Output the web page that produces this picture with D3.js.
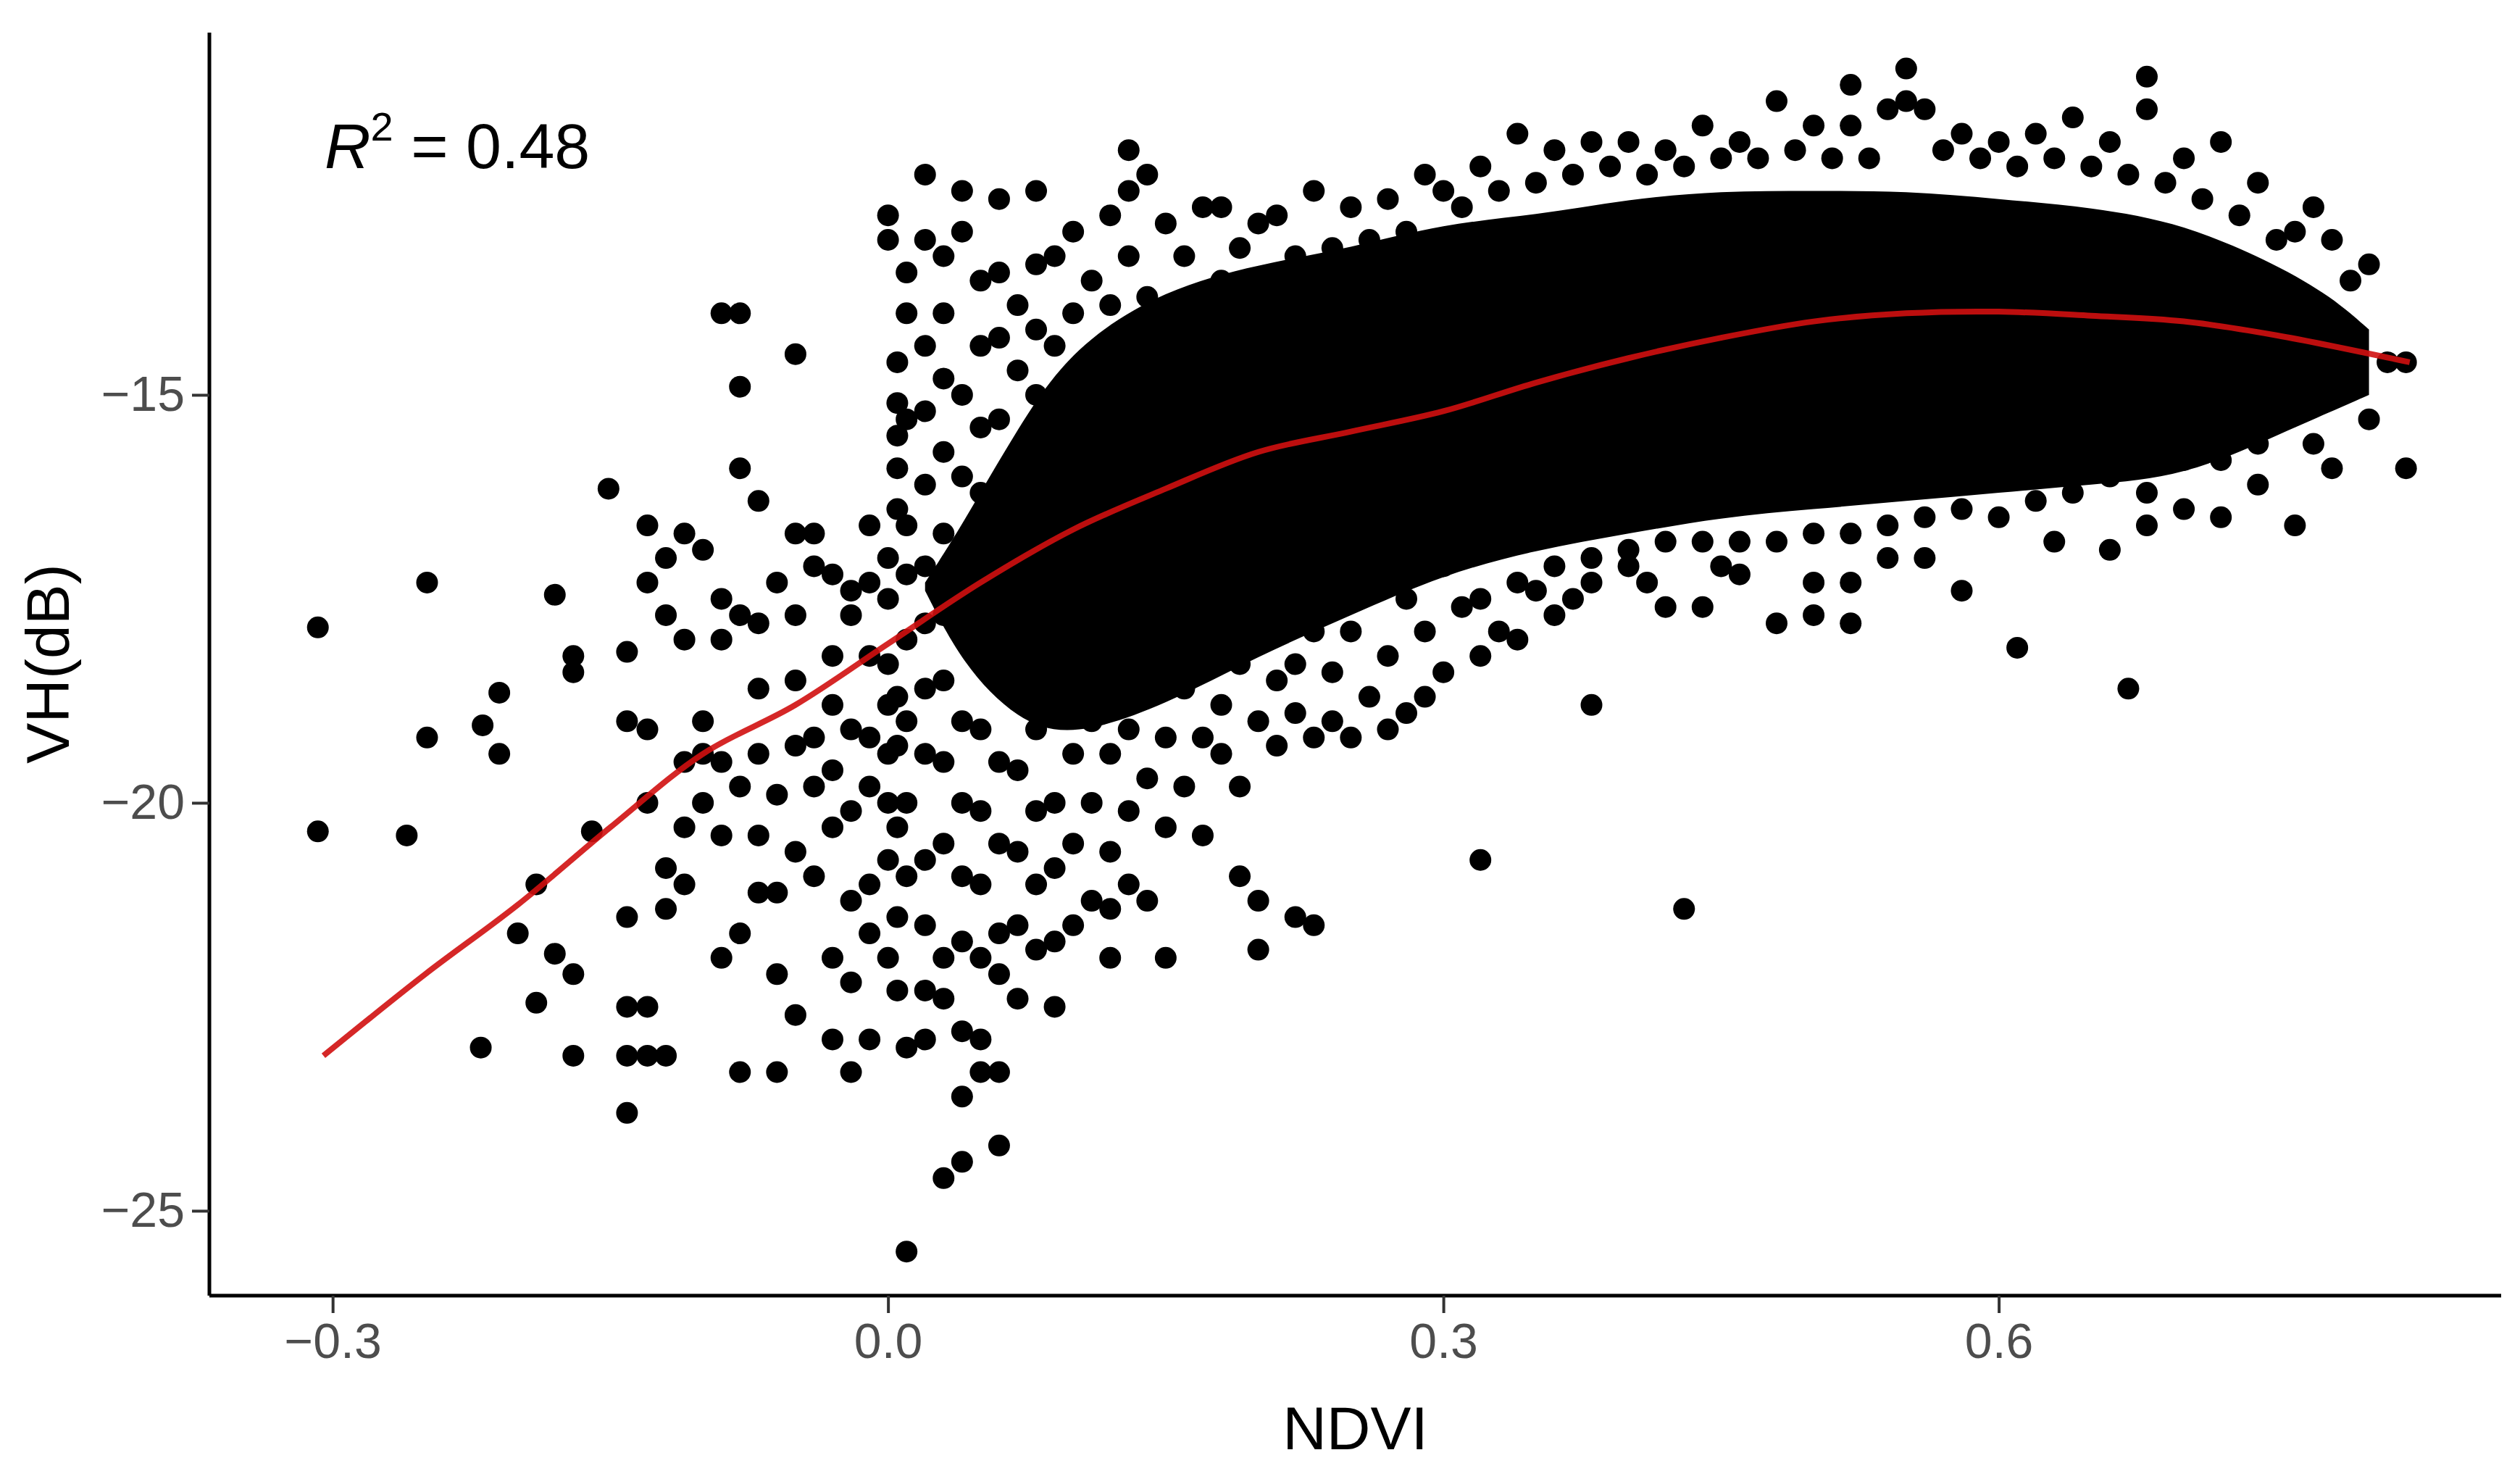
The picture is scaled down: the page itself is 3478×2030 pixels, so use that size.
<!DOCTYPE html>
<html><head><meta charset="utf-8">
<script src="https://cdn.jsdelivr.net/npm/d3@7"></script>
<style>body{margin:0;background:#fff}svg{display:block}</style>
</head><body>
<svg id="c" width="3478" height="2030"></svg>
<script>
const xTicks=[-0.3,0.0,0.3,0.6];
const yTicks=[-25,-20,-15];
const r2Label="0.48";
// dense core of the cloud: [NDVI, top dB, bottom dB]
const coreBand=[[0.02,-17.3,-17.4],[0.04,-16.6,-18.3],[0.07,-15.4,-19.0],[0.10,-14.4,-19.2],[0.15,-13.7,-18.8],[0.20,-13.4,-18.2],[0.25,-13.2,-17.7],[0.30,-12.9,-17.2],[0.35,-12.8,-16.9],[0.40,-12.6,-16.7],[0.45,-12.5,-16.5],[0.50,-12.5,-16.4],[0.55,-12.5,-16.3],[0.60,-12.6,-16.2],[0.65,-12.7,-16.1],[0.70,-12.9,-16.0],[0.75,-13.4,-15.5],[0.78,-13.8,-15.2],[0.80,-14.2,-15.0]];
// individual observations [NDVI, VH dB]
const points=[[-0.308,-17.85],[-0.308,-20.35],[-0.249,-17.3],[-0.249,-19.2],[-0.26,-20.4],[-0.219,-19.05],[-0.21,-18.65],[-0.21,-19.4],[-0.2,-21.6],[-0.22,-23.0],[-0.19,-21.0],[-0.19,-22.45],[-0.18,-17.45],[-0.18,-21.85],[-0.17,-18.2],[-0.17,-18.4],[-0.17,-23.1],[-0.17,-22.1],[-0.16,-20.35],[-0.151,-16.15],[-0.141,-18.15],[-0.141,-19.0],[-0.141,-21.4],[-0.141,-22.5],[-0.141,-23.1],[-0.141,-23.8],[-0.13,-16.6],[-0.13,-17.3],[-0.13,-19.1],[-0.13,-20.0],[-0.13,-22.5],[-0.13,-23.1],[-0.12,-17.0],[-0.12,-17.7],[-0.12,-20.8],[-0.12,-21.3],[-0.12,-23.1],[-0.11,-16.7],[-0.11,-18.0],[-0.11,-19.5],[-0.11,-20.3],[-0.11,-21.0],[-0.1,-16.9],[-0.1,-19.0],[-0.1,-19.4],[-0.1,-20.0],[-0.09,-14.0],[-0.09,-17.5],[-0.09,-18.0],[-0.09,-19.5],[-0.09,-20.4],[-0.09,-21.9],[-0.08,-14.0],[-0.08,-14.9],[-0.08,-15.9],[-0.08,-17.7],[-0.08,-19.8],[-0.08,-21.6],[-0.08,-23.3],[-0.07,-16.3],[-0.07,-17.8],[-0.07,-18.6],[-0.07,-19.4],[-0.07,-20.4],[-0.07,-21.1],[-0.06,-17.3],[-0.06,-19.9],[-0.06,-21.1],[-0.06,-22.1],[-0.06,-23.3],[-0.05,-14.5],[-0.05,-16.7],[-0.05,-17.7],[-0.05,-18.5],[-0.05,-19.3],[-0.05,-20.6],[-0.05,-22.6],[-0.04,-16.7],[-0.04,-17.1],[-0.04,-19.2],[-0.04,-19.8],[-0.04,-20.9],[-0.03,-17.2],[-0.03,-18.2],[-0.03,-18.8],[-0.03,-19.6],[-0.03,-20.3],[-0.03,-21.9],[-0.03,-22.9],[-0.02,-17.4],[-0.02,-17.7],[-0.02,-19.1],[-0.02,-20.1],[-0.02,-21.2],[-0.02,-22.2],[-0.02,-23.3],[-0.01,-16.6],[-0.01,-17.3],[-0.01,-18.2],[-0.01,-19.2],[-0.01,-19.8],[-0.01,-21.0],[-0.01,-21.6],[-0.01,-22.9],
[0.0,-12.8],[0.0,-13.1],[0.0,-17.0],[0.0,-17.5],[0.0,-18.3],[0.0,-18.8],[0.0,-19.4],[0.0,-20.0],[0.0,-20.7],[0.0,-21.9],
[0.005,-14.6],[0.005,-15.1],[0.005,-15.5],[0.005,-15.9],[0.005,-16.4],[0.005,-18.7],[0.005,-19.3],[0.005,-20.3],[0.005,-21.4],[0.005,-22.3],
[0.01,-13.5],[0.01,-14.0],[0.01,-15.3],[0.01,-16.6],[0.01,-17.2],[0.01,-18.0],[0.01,-19.0],[0.01,-20.0],[0.01,-20.9],[0.01,-23.0],[0.01,-25.5],
[0.02,-12.3],[0.02,-13.1],[0.02,-14.4],[0.02,-15.2],[0.02,-16.1],[0.02,-17.1],[0.02,-17.8],[0.02,-18.6],[0.02,-19.4],[0.02,-20.7],[0.02,-21.5],[0.02,-22.3],[0.02,-22.9],
[0.03,-13.3],[0.03,-14.0],[0.03,-14.8],[0.03,-15.7],[0.03,-16.7],[0.03,-17.7],[0.03,-18.5],[0.03,-19.5],[0.03,-20.5],[0.03,-21.9],[0.03,-22.4],[0.03,-24.6],
[0.04,-12.5],[0.04,-13.0],[0.04,-15.0],[0.04,-16.0],[0.04,-17.0],[0.04,-17.9],[0.04,-19.0],[0.04,-20.0],[0.04,-20.9],[0.04,-21.7],[0.04,-22.8],[0.04,-23.6],[0.04,-24.4],
[0.05,-13.6],[0.05,-14.4],[0.05,-15.4],[0.05,-16.2],[0.05,-17.1],[0.05,-18.1],[0.05,-19.1],[0.05,-20.1],[0.05,-21.0],[0.05,-21.9],[0.05,-22.9],[0.05,-23.3],
[0.06,-12.6],[0.06,-13.5],[0.06,-14.3],[0.06,-15.3],[0.06,-16.4],[0.06,-17.4],[0.06,-18.4],[0.06,-19.5],[0.06,-20.5],[0.06,-21.6],[0.06,-22.1],[0.06,-23.3],[0.06,-24.2],
[0.07,-13.9],[0.07,-14.7],[0.07,-15.8],[0.07,-16.7],[0.07,-17.6],[0.07,-18.6],[0.07,-19.6],[0.07,-20.6],[0.07,-21.5],[0.07,-22.4],
[0.08,-12.5],[0.08,-13.4],[0.08,-14.2],[0.08,-15.0],[0.08,-16.1],[0.08,-17.1],[0.08,-18.1],[0.08,-19.1],[0.08,-20.1],[0.08,-21.0],[0.08,-21.8],
[0.09,-13.3],[0.09,-14.4],[0.09,-15.5],[0.09,-16.5],[0.09,-17.7],[0.09,-18.9],[0.09,-20.0],[0.09,-20.8],[0.09,-21.7],[0.09,-22.5],
[0.1,-13.0],[0.1,-14.0],[0.1,-15.1],[0.1,-16.2],[0.1,-17.3],[0.1,-18.3],[0.1,-19.4],[0.1,-20.5],[0.1,-21.5],
[0.11,-13.6],[0.11,-14.6],[0.11,-15.6],[0.11,-16.6],[0.11,-17.8],[0.11,-19.0],[0.11,-20.0],[0.11,-21.2],
[0.12,-12.8],[0.12,-13.9],[0.12,-15.0],[0.12,-16.1],[0.12,-17.2],[0.12,-18.3],[0.12,-19.4],[0.12,-20.6],[0.12,-21.3],[0.12,-21.9],
[0.13,-12.0],[0.13,-12.5],[0.13,-13.3],[0.13,-14.4],[0.13,-15.5],[0.13,-16.8],[0.13,-17.9],[0.13,-19.1],[0.13,-20.1],[0.13,-21.0],
[0.14,-12.3],[0.14,-13.8],[0.14,-15.0],[0.14,-16.2],[0.14,-17.4],[0.14,-18.6],[0.14,-19.7],[0.14,-21.2],
[0.15,-12.9],[0.15,-14.3],[0.15,-15.5],[0.15,-16.8],[0.15,-18.0],[0.15,-19.2],[0.15,-20.3],[0.15,-21.9],
[0.16,-13.3],[0.16,-14.6],[0.16,-16.0],[0.16,-17.3],[0.16,-18.6],[0.16,-19.8],
[0.17,-12.7],[0.17,-14.0],[0.17,-15.4],[0.17,-16.7],[0.17,-17.9],[0.17,-19.2],[0.17,-20.4],
[0.18,-12.7],[0.18,-13.6],[0.18,-15.0],[0.18,-16.3],[0.18,-17.6],[0.18,-18.8],[0.18,-19.4],
[0.19,-13.2],[0.19,-14.6],[0.19,-15.9],[0.19,-17.1],[0.19,-18.3],[0.19,-19.8],[0.19,-20.9],
[0.2,-12.9],[0.2,-14.2],[0.2,-15.5],[0.2,-16.8],[0.2,-18.0],[0.2,-19.0],[0.2,-21.2],[0.2,-21.8],
[0.21,-12.8],[0.21,-13.8],[0.21,-15.0],[0.21,-16.4],[0.21,-17.6],[0.21,-18.5],[0.21,-19.3],
[0.22,-13.3],[0.22,-14.6],[0.22,-16.0],[0.22,-17.2],[0.22,-18.3],[0.22,-18.9],[0.22,-21.4],
[0.23,-12.5],[0.23,-13.9],[0.23,-15.3],[0.23,-16.7],[0.23,-17.9],[0.23,-19.2],[0.23,-21.5],
[0.24,-13.2],[0.24,-14.6],[0.24,-16.0],[0.24,-17.4],[0.24,-18.4],[0.24,-19.0],
[0.25,-12.7],[0.25,-13.9],[0.25,-15.3],[0.25,-16.7],[0.25,-17.9],[0.25,-19.2],
[0.26,-13.1],[0.26,-14.6],[0.26,-16.1],[0.26,-17.3],[0.26,-18.7],
[0.27,-12.6],[0.27,-13.9],[0.27,-15.4],[0.27,-16.9],[0.27,-18.2],[0.27,-19.1],
[0.28,-13.0],[0.28,-14.5],[0.28,-16.0],[0.28,-17.5],[0.28,-18.9],
[0.29,-12.3],[0.29,-13.7],[0.29,-15.3],[0.29,-16.8],[0.29,-17.9],[0.29,-18.7],
[0.3,-12.5],[0.3,-14.0],[0.3,-15.6],[0.3,-17.1],[0.3,-18.4],
[0.31,-12.7],[0.31,-17.6],[0.32,-12.2],[0.32,-17.5],[0.32,-18.2],[0.32,-20.7],[0.33,-12.5],[0.33,-17.9],[0.34,-11.8],[0.34,-17.3],[0.34,-18.0],[0.35,-12.4],[0.35,-17.4],[0.36,-12.0],[0.36,-17.1],[0.36,-17.7],[0.37,-12.3],[0.37,-17.5],[0.38,-11.9],[0.38,-17.0],[0.38,-17.3],[0.38,-18.8],[0.39,-12.2],[0.40,-11.9],[0.40,-16.9],[0.40,-17.1],[0.41,-12.3],[0.41,-17.3],[0.42,-12.0],[0.42,-16.8],[0.42,-17.6],[0.43,-21.3],[0.43,-12.2],[0.44,-11.7],[0.44,-16.8],[0.44,-17.6],[0.45,-12.1],[0.45,-17.1],[0.46,-11.9],[0.46,-16.8],[0.46,-17.2],[0.47,-12.1],[0.48,-11.4],[0.48,-16.8],[0.48,-17.8],[0.49,-12.0],[0.50,-11.7],[0.50,-16.7],[0.50,-17.3],[0.50,-17.7],[0.51,-12.1],[0.52,-11.7],[0.52,-11.2],[0.52,-16.7],[0.52,-17.3],[0.52,-17.8],[0.53,-12.1],[0.54,-11.5],[0.54,-16.6],[0.54,-17.0],[0.55,-11.0],[0.55,-11.4],[0.56,-11.5],[0.56,-16.5],[0.56,-17.0],[0.57,-12.0],[0.58,-11.8],[0.58,-16.4],[0.58,-17.4],[0.59,-12.1],[0.60,-11.9],[0.60,-16.5],[0.61,-18.1],[0.61,-12.2],[0.62,-11.8],[0.62,-16.3],[0.63,-16.8],[0.63,-12.1],[0.64,-11.6],[0.64,-16.2],[0.65,-12.2],[0.66,-11.9],[0.66,-16.0],[0.66,-16.9],[0.67,-18.6],[0.67,-12.3],[0.68,-11.1],[0.68,-11.5],[0.68,-16.2],[0.68,-16.6],[0.69,-12.4],[0.70,-12.1],[0.70,-15.8],[0.70,-16.4],[0.71,-12.6],[0.72,-11.9],[0.72,-15.8],[0.72,-16.5],[0.73,-12.8],[0.74,-12.4],[0.74,-15.6],[0.74,-16.1],[0.75,-13.1],[0.76,-13.0],[0.76,-15.2],[0.76,-16.6],[0.77,-12.7],[0.77,-15.6],[0.78,-13.1],[0.78,-15.0],[0.78,-15.9],[0.79,-13.6],[0.80,-13.4],[0.80,-15.3],[0.81,-14.6],[0.82,-14.6],[0.82,-15.9]];
// loess fit
const fitX=[-0.305,-0.25,-0.2,-0.15,-0.1,-0.05,0.0,0.05,0.1,0.15,0.2,0.25,0.3,0.35,0.4,0.45,0.5,0.55,0.6,0.65,0.7,0.75,0.822];
const fitY=[-23.1,-22.1,-21.25,-20.3,-19.4,-18.8,-18.05,-17.3,-16.65,-16.15,-15.7,-15.45,-15.2,-14.85,-14.55,-14.3,-14.1,-14.0,-13.98,-14.03,-14.1,-14.27,-14.6];

const svg=d3.select("#c");
const x=d3.scaleLinear().domain([-0.3666,0.8714]).range([289,3452]);
const y=d3.scaleLinear().domain([-26.04,-10.56]).range([1788,45]);
const R=15;

svg.append("path").datum(coreBand)
  .attr("d",d3.area().curve(d3.curveBasis).x(d=>x(d[0])).y0(d=>y(d[2])).y1(d=>y(d[1])))
  .attr("fill","#000");
svg.append("g").selectAll("circle").data(points).join("circle")
  .attr("cx",d=>x(d[0])).attr("cy",d=>y(d[1])).attr("r",R).attr("fill","#000");

svg.append("path").datum(fitX.map((v,i)=>[v,fitY[i]]))
  .attr("d",d3.line().curve(d3.curveCatmullRom).x(d=>x(d[0])).y(d=>y(d[1])))
  .attr("fill","none").attr("stroke","#d01010").attr("stroke-width",8).attr("stroke-opacity",0.9);

const font="Liberation Sans, Arial, sans-serif";
const xa=svg.append("g").attr("transform","translate(0,1788)")
  .call(d3.axisBottom(x).tickValues(xTicks).tickSize(24).tickPadding(14));
const ya=svg.append("g").attr("transform","translate(289,0)")
  .call(d3.axisLeft(y).tickValues(yTicks).tickFormat(d=>String(d).replace("-","\u2212")).tickSize(24).tickPadding(10));
xa.selectAll("text").text(d=>d3.format(".1f")(d).replace("-","\u2212"));
[xa,ya].forEach(a=>{
  a.select(".domain").attr("stroke","#000").attr("stroke-width",5);
  a.selectAll(".tick line").attr("stroke","#333").attr("stroke-width",4);
  a.selectAll("text").attr("font-family",font).attr("font-size",68).attr("fill","#4d4d4d");
});
xa.select(".domain").attr("d","M289,0H3452");
ya.select(".domain").attr("d","M0,45V1788");

svg.append("text").attr("x",(289+3452)/2).attr("y",2000).attr("text-anchor","middle")
  .attr("font-family",font).attr("font-size",84).attr("fill","#000").text("NDVI");
svg.append("text").attr("transform","translate(95,916) rotate(-90)").attr("text-anchor","middle")
  .attr("font-family",font).attr("font-size",84).attr("fill","#000").text("VH(dB)");

const t=svg.append("text").attr("x",448).attr("y",232).attr("font-family",font).attr("font-size",88).attr("fill","#000");
t.append("tspan").attr("font-style","italic").text("R");
t.append("tspan").attr("font-size",56).attr("dy",-38).text("2");
t.append("tspan").attr("dy",38).text(" = "+r2Label);
</script>
</body></html>
